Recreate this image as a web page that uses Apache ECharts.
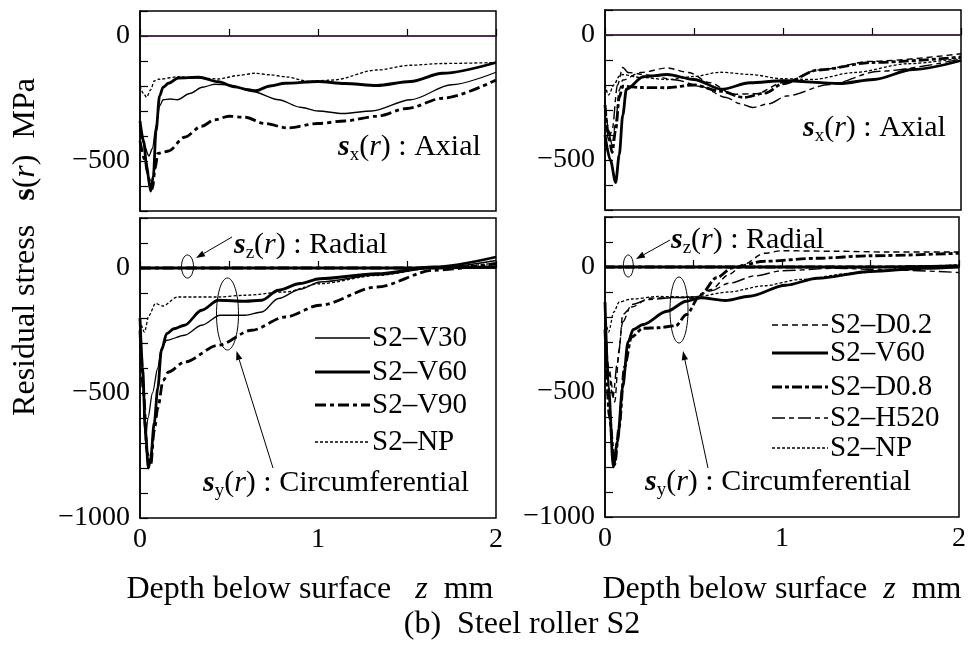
<!DOCTYPE html>
<html>
<head>
<meta charset="utf-8">
<script src="https://cdn.jsdelivr.net/npm/echarts@6/dist/echarts.min.js"></script>
<style>html,body{margin:0;padding:0;background:#fff;}#c{width:969px;height:653px;}</style>
</head>
<body>
<div id="c"></div>
<script>
// ---------- DATA (depth z mm, stress MPa) ----------
// Left: axial
const lAxV30 = [[0,-370],[0.02,-430],[0.05,-480],[0.07,-450],[0.09,-360],[0.11,-280],[0.13,-255],[0.17,-252],[0.21,-255],[0.28,-230],[0.35,-205],[0.42,-193],[0.5,-196],[0.63,-222],[0.78,-255],[0.9,-285],[1.0,-300],[1.14,-310],[1.3,-300],[1.52,-255],[1.75,-195],[2.0,-145]];
const lAxV60 = [[0,-340],[0.02,-420],[0.04,-540],[0.06,-620],[0.075,-560],[0.09,-380],[0.11,-240],[0.13,-205],[0.16,-189],[0.215,-168],[0.33,-165],[0.44,-183],[0.53,-203],[0.61,-215],[0.65,-219],[0.73,-200],[0.815,-189],[1.0,-182],[1.15,-190],[1.33,-198],[1.52,-182],[1.7,-149],[2.0,-106]];
const lAxV90 = [[0,-420],[0.03,-500],[0.055,-580],[0.07,-610],[0.085,-530],[0.1,-470],[0.13,-465],[0.16,-460],[0.25,-405],[0.346,-361],[0.42,-335],[0.5,-321],[0.59,-325],[0.7,-350],[0.83,-368],[1.0,-350],[1.15,-340],[1.33,-321],[1.5,-290],[1.7,-249],[2.0,-176]];
const lAxNP  = [[0,-200],[0.02,-230],[0.037,-245],[0.06,-215],[0.08,-180],[0.104,-173],[0.215,-163],[0.33,-168],[0.44,-172],[0.55,-158],[0.646,-149],[0.73,-155],[0.815,-163],[0.95,-182],[1.085,-176],[1.33,-136],[1.52,-117],[1.7,-110],[2.0,-106]];
// Left: circumferential
const lCiV30 = [[0,-230],[0.015,-450],[0.03,-690],[0.045,-600],[0.07,-500],[0.1,-400],[0.12,-320],[0.15,-289],[0.25,-269],[0.346,-229],[0.45,-189],[0.59,-189],[0.684,-176],[0.777,-122],[0.9,-85],[1.01,-56],[1.33,-28],[1.65,0],[2.0,30]];
const lCiV60 = [[0,-200],[0.015,-400],[0.03,-650],[0.047,-800],[0.06,-760],[0.08,-620],[0.1,-480],[0.12,-330],[0.15,-263],[0.19,-243],[0.25,-229],[0.346,-169],[0.44,-129],[0.59,-133],[0.684,-129],[0.777,-89],[0.9,-62],[1.01,-43],[1.33,-23],[1.65,4],[2.0,44]];
const lCiV90 = [[0,-250],[0.02,-500],[0.04,-740],[0.06,-790],[0.08,-650],[0.1,-560],[0.13,-450],[0.16,-416],[0.25,-376],[0.44,-309],[0.627,-249],[0.815,-196],[1.01,-149],[1.33,-76],[1.65,-9],[2.0,18]];
const lCiNP  = [[0,-209],[0.025,-256],[0.05,-190],[0.087,-142],[0.128,-152],[0.21,-116],[0.44,-116],[0.59,-109],[0.815,-96],[1.01,-63],[1.33,-30],[1.65,0],[2.0,20]];
// Radial (all series ~0)
const radial = [[0,0],[1.5,0],[2.0,4]];
const zeroRef = [[0,0],[2,0]];
// Right: axial
const rAxD02  = [[0,-260],[0.02,-380],[0.04,-440],[0.06,-350],[0.08,-220],[0.1,-180],[0.2,-150],[0.35,-132],[0.47,-150],[0.59,-191],[0.72,-237],[0.85,-235],[1.0,-190],[1.2,-140],[1.5,-105],[2.0,-75]];
const rAxV60  = [[0,-400],[0.03,-500],[0.06,-590],[0.08,-480],[0.1,-320],[0.12,-217],[0.215,-167],[0.35,-158],[0.5,-178],[0.655,-217],[0.815,-191],[1.0,-183],[1.32,-194],[1.51,-178],[1.73,-138],[2.0,-102]];
const rAxD08  = [[0,-280],[0.02,-400],[0.04,-470],[0.06,-380],[0.08,-250],[0.1,-205],[0.2,-210],[0.35,-211],[0.5,-200],[0.65,-225],[0.78,-250],[0.9,-232],[1.0,-195],[1.2,-140],[1.5,-110],[2.0,-88]];
const rAxH520 = [[0,-300],[0.02,-420],[0.04,-380],[0.07,-200],[0.1,-130],[0.13,-150],[0.24,-160],[0.4,-180],[0.54,-206],[0.68,-250],[0.76,-275],[0.83,-290],[0.92,-275],[1.02,-244],[1.26,-198],[1.54,-145],[2.0,-96]];
const rAxNP   = [[0,-200],[0.02,-240],[0.05,-200],[0.08,-165],[0.1,-158],[0.2,-170],[0.35,-178],[0.5,-166],[0.646,-149],[0.815,-158],[1.0,-175],[1.17,-178],[1.4,-150],[1.7,-115],[2.0,-92]];
// Right: circumferential
const rCiD02  = [[0,-180],[0.02,-400],[0.055,-540],[0.08,-330],[0.1,-190],[0.15,-160],[0.25,-125],[0.4,-122],[0.5,-125],[0.6,-90],[0.7,-30],[0.78,10],[0.9,55],[1.0,65],[1.3,63],[1.6,60],[2.0,60]];
const rCiV60  = [[0,-140],[0.02,-480],[0.047,-800],[0.07,-700],[0.1,-480],[0.13,-300],[0.16,-250],[0.215,-230],[0.35,-177],[0.46,-137],[0.54,-123],[0.68,-134],[0.815,-117],[1.02,-73],[1.2,-45],[1.5,-18],[1.8,-5],[2.0,0]];
const rCiD08  = [[0,-250],[0.025,-600],[0.055,-790],[0.08,-640],[0.11,-400],[0.15,-280],[0.215,-245],[0.3,-243],[0.4,-235],[0.46,-190],[0.54,-110],[0.63,-43],[0.72,-3],[0.9,23],[1.2,35],[1.5,45],[2.0,55]];
const rCiH520 = [[0,-180],[0.02,-420],[0.045,-520],[0.07,-380],[0.1,-220],[0.15,-150],[0.25,-130],[0.4,-122],[0.5,-120],[0.6,-95],[0.7,-65],[0.85,-35],[1.0,-15],[1.3,-5],[1.6,-12],[2.0,-22]];
const rCiNP   = [[0,-200],[0.02,-260],[0.05,-180],[0.08,-140],[0.15,-128],[0.3,-118],[0.5,-120],[0.7,-100],[0.9,-75],[1.1,-50],[1.4,-25],[1.7,-5],[2.0,10]];

const xTicks = [0, 1, 2];
const yLabelsTop = [0, -500];
const yLabelsBot = [0, -500, -1000];
const leftNames  = ['S2\u2013V30','S2\u2013V60','S2\u2013V90','S2\u2013NP'];
const rightNames = ['S2\u2013D0.2','S2\u2013V60','S2\u2013D0.8','S2\u2013H520','S2\u2013NP'];

// ---------- STYLES ----------
const FONT = 'Liberation Serif';
const ST = {
  V30:  {width:1.3, type:'solid'},
  V60:  {width:2.8, type:'solid'},
  V90:  {width:2.8, type:[11,4,4,4]},
  NP:   {width:1.3, type:[3,2]},
  D02:  {width:1.4, type:[6,4]},
  D08:  {width:2.8, type:[10,3,4,3]},
  H520: {width:1.4, type:[13,4,5,4]}
};

const chart = echarts.init(document.getElementById('c'), null, {renderer:'canvas'});

const grids = [
  {left:140, top:11, width:356, height:200},
  {left:140, top:218, width:356, height:300},
  {left:605, top:10, width:356, height:200},
  {left:605, top:217, width:356, height:300}
].map(g => Object.assign({show:true, borderColor:'#000', borderWidth:1.5, backgroundColor:'transparent'}, g));

const minus = v => (v < 0 ? '\u2212' + Math.abs(v) : String(v));
function xAxis(i, showLabels){
  return {type:'value', gridIndex:i, min:0, max:2, interval:0.5,
    axisLine:{show:true, lineStyle:{color:'#000', width:1.5}},
    axisTick:{show:true, inside:true, length:7, lineStyle:{color:'#000', width:1.2}},
    axisLabel:{show:showLabels, margin:8, color:'#000', fontFamily:FONT, fontSize:28,
      showMinLabel:true, showMaxLabel:true,
      formatter: v => (xTicks.indexOf(v) >= 0 ? String(v) : '')},
    splitLine:{show:false}};
}
function yAxis(i, min, max, labels){
  return {type:'value', gridIndex:i, min:min, max:max, interval:100,
    axisLine:{show:true, lineStyle:{color:'#000', width:1.5}},
    axisTick:{show:true, inside:true, length:8, lineStyle:{color:'#000', width:1.2}},
    axisLabel:{margin:10, color:'#000', fontFamily:FONT, fontSize:28,
      showMinLabel:true, showMaxLabel:true,
      formatter: v => (labels.indexOf(v) >= 0 ? minus(v) : '')},
    splitLine:{show:false}};
}

function ser(data, st, gi, name){
  return {type:'line', name:name, xAxisIndex:gi, yAxisIndex:gi, data:data,
    showSymbol:false, symbol:'none', smooth:0.3, smoothMonotone:'x', silent:true, animation:false,
    lineStyle:{color:'#000', width:st.width, type:st.type}, z:3};
}

const series = [
  {type:'line', xAxisIndex:0, yAxisIndex:0, data:zeroRef, showSymbol:false, symbol:'none', animation:false, lineStyle:{color:'#5e1f5e', width:1.2}, z:2},
  {type:'line', xAxisIndex:2, yAxisIndex:2, data:zeroRef, showSymbol:false, symbol:'none', animation:false, lineStyle:{color:'#5e1f5e', width:1.2}, z:2},
  ser(lAxV30, ST.V30, 0), ser(lAxV60, ST.V60, 0), ser(lAxV90, ST.V90, 0), ser(lAxNP, ST.NP, 0),
  ser(lCiV30, ST.V30, 1), ser(lCiV60, ST.V60, 1), ser(lCiV90, ST.V90, 1), ser(lCiNP, ST.NP, 1),
  ser(radial, ST.V30, 1), ser(radial, ST.V60, 1), ser(radial, ST.V90, 1), ser(radial, ST.NP, 1),
  ser(rAxD02, ST.D02, 2), ser(rAxV60, ST.V60, 2), ser(rAxD08, ST.D08, 2), ser(rAxH520, ST.H520, 2), ser(rAxNP, ST.NP, 2),
  ser(rCiD02, ST.D02, 3), ser(rCiV60, ST.V60, 3), ser(rCiD08, ST.D08, 3), ser(rCiH520, ST.H520, 3), ser(rCiNP, ST.NP, 3),
  ser(radial, ST.D02, 3), ser(radial, ST.V60, 3), ser(radial, ST.D08, 3), ser(radial, ST.H520, 3), ser(radial, ST.NP, 3)
];

// ---------- ANNOTATIONS ----------
function mkRich(fs){
  const lh = Math.round(fs * 1.15);
  return {
    n:{fontFamily:FONT, fontSize:fs, color:'#000', lineHeight:lh},
    i:{fontFamily:FONT, fontSize:fs, fontStyle:'italic', color:'#000', lineHeight:lh},
    s:{fontFamily:FONT, fontSize:fs, fontStyle:'italic', fontWeight:'bold', color:'#000', lineHeight:lh},
    b:{fontFamily:FONT, fontSize:fs, fontWeight:'bold', color:'#000', lineHeight:lh},
    sub:{fontFamily:FONT, fontSize:Math.round(fs*0.64), color:'#000', lineHeight:Math.round(fs*0.64), verticalAlign:'bottom'}
  };
}
function label(x, y, str, fs, align, rot){
  return {type:'text', x:x, y:y, z:10, silent:true, rotation:rot||0,
    style:{text:str, rich:mkRich(fs), textAlign:align||'left', textVerticalAlign:'middle', fill:'#000', font:fs + 'px ' + FONT}};
}
function sigma(sub, tail){ return '{s|s}{sub|' + sub + '}{n|(}{i|r}{n|) : ' + tail + '}'; }
function ellipse(cx, cy, rx, ry){
  return {type:'ellipse', z:10, silent:true, shape:{cx:cx, cy:cy, rx:rx, ry:ry}, style:{fill:'none', stroke:'#000', lineWidth:1}};
}
function arrow(x1, y1, x2, y2){
  const a = Math.atan2(y2 - y1, x2 - x1), L = 9, W = 3.2;
  const bx = x2 - L*Math.cos(a), by = y2 - L*Math.sin(a);
  const px = -Math.sin(a)*W, py = Math.cos(a)*W;
  return [
    {type:'line', z:10, silent:true, shape:{x1:x1, y1:y1, x2:bx, y2:by}, style:{stroke:'#000', lineWidth:1}},
    {type:'polygon', z:10, silent:true, shape:{points:[[x2,y2],[bx+px,by+py],[bx-px,by-py]]}, style:{fill:'#000'}}
  ];
}
function legendItem(x1, x2, y, st, text){
  return [
    {type:'line', z:10, silent:true, shape:{x1:x1, y1:y, x2:x2, y2:y},
      style:{stroke:'#000', lineWidth:st.width, lineDash: st.type === 'solid' ? null : st.type}},
    label(x2 + 2, y, '{n|' + text + '}', 29)
  ];
}

const graphic = [].concat(
  label(338, 147, sigma('x', 'Axial'), 30),
  label(803, 128, sigma('x', 'Axial'), 30),
  label(234, 245, sigma('z', 'Radial'), 30),
  label(671, 240, sigma('z', 'Radial'), 30),
  label(203, 483, sigma('y', 'Circumferential'), 30),
  label(645, 482, sigma('y', 'Circumferential'), 30),
  ellipse(187.5, 266.5, 6, 11.5), ellipse(628.3, 266, 5, 11),
  ellipse(227.5, 314, 11, 36), ellipse(679, 310, 9, 33),
  arrow(232, 237, 196, 258), arrow(670, 240, 636, 259),
  arrow(273, 468, 236.5, 351), arrow(708, 468, 683, 351),
  legendItem(315, 370, 338, ST.V30, leftNames[0]),
  legendItem(315, 370, 372, ST.V60, leftNames[1]),
  legendItem(315, 370, 405, ST.V90, leftNames[2]),
  legendItem(315, 370, 442, ST.NP,  leftNames[3]),
  legendItem(772, 828, 325, ST.D02, rightNames[0]),
  legendItem(772, 828, 353, ST.V60, rightNames[1]),
  legendItem(772, 828, 387, ST.D08, rightNames[2]),
  legendItem(772, 828, 418, ST.H520, rightNames[3]),
  legendItem(772, 828, 448, ST.NP,  rightNames[4]),
  label(26, 247, '{n|Residual stress   }{b|s}{n|(}{i|r}{n|)  MPa}', 32, 'center', Math.PI/2),
  label(310, 590, '{n|Depth below surface   }{i|z}{n|  mm}', 32, 'center'),
  label(782, 590, '{n|Depth below surface  }{i|z}{n|  mm}', 32, 'center'),
  label(522, 625, '{n|(b)  Steel roller S2}', 32, 'center')
);

chart.setOption({
  backgroundColor:'#fff',
  animation:false,
  grid: grids,
  xAxis: [xAxis(0,false), xAxis(1,true), xAxis(2,false), xAxis(3,true)],
  yAxis: [yAxis(0,-700,100,yLabelsTop), yAxis(1,-1000,200,yLabelsBot), yAxis(2,-700,100,yLabelsTop), yAxis(3,-1000,200,yLabelsBot)],
  series: series,
  graphic: graphic
});
</script>
</body>
</html>
